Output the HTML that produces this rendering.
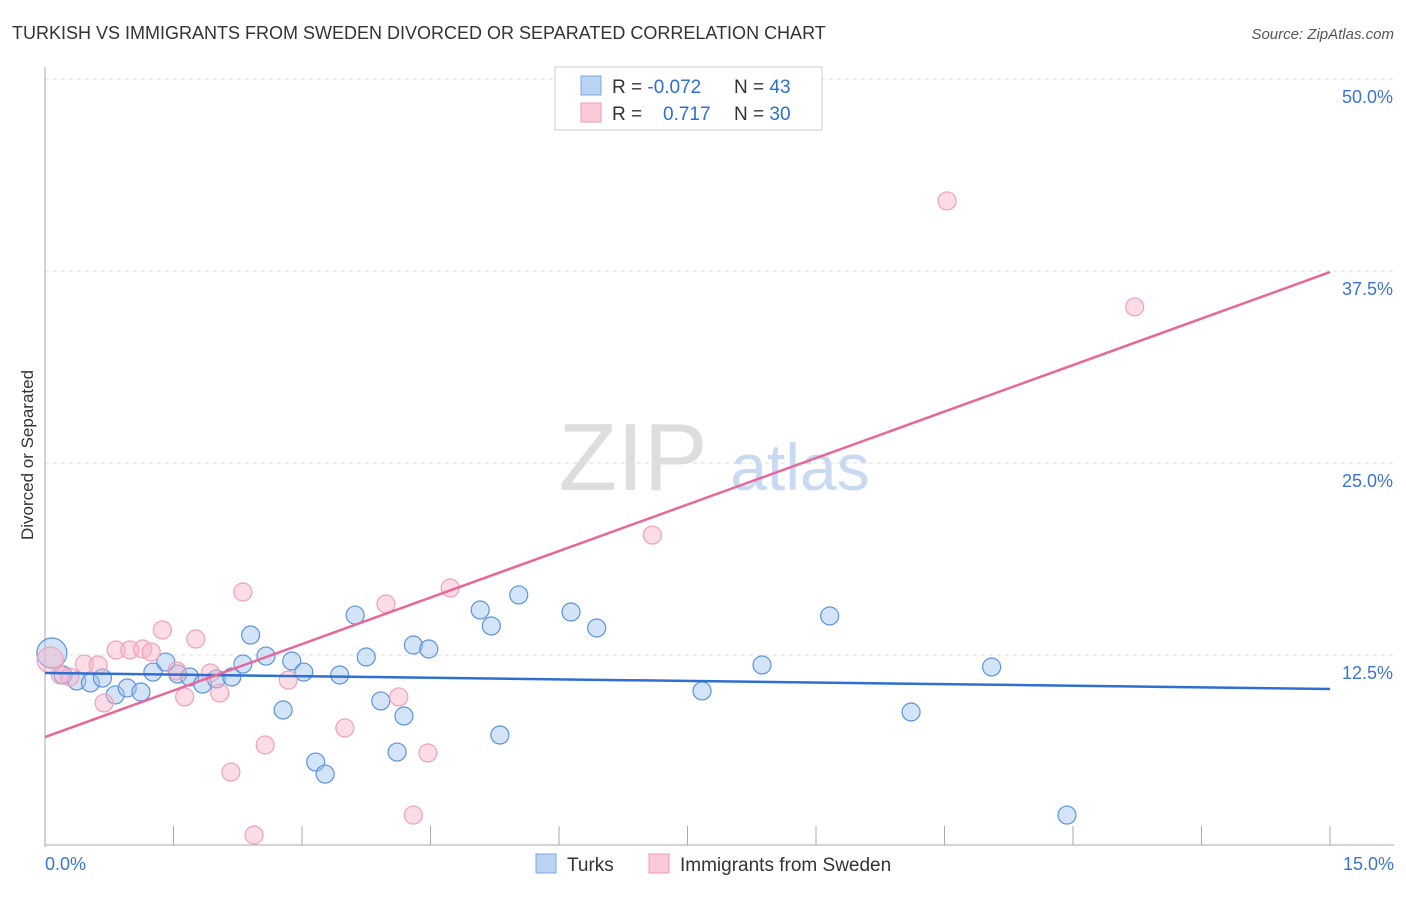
<!DOCTYPE html>
<html><head><meta charset="utf-8"><style>
body{margin:0;background:#fff;font-family:"Liberation Sans",sans-serif;}
svg text{font-family:"Liberation Sans",sans-serif;}
</style></head><body>
<svg id="chart" width="1406" height="892" viewBox="0 0 1406 892">
<text x="12" y="39" font-size="18" fill="#333">TURKISH VS IMMIGRANTS FROM SWEDEN DIVORCED OR SEPARATED CORRELATION CHART</text>
<text x="1394" y="39" font-size="15" fill="#555" font-style="italic" text-anchor="end">Source: ZipAtlas.com</text>
<text x="33" y="455" font-size="17" fill="#333" text-anchor="middle" transform="rotate(-90 33 455)">Divorced or Separated</text>
<g><text x="633" y="490" font-size="96" fill="#ddd" font-family="Liberation Serif" text-anchor="middle">ZIP</text><text x="800" y="490" font-size="66" fill="#c8daf2" text-anchor="middle">atlas</text></g>
<g id="grid"></g>
<g id="axes"></g>
<g id="pts"></g>
<g id="lines"></g>
<g>
<rect x="555" y="67" width="267" height="63" fill="#fff" stroke="#ccc"/>
<rect x="581" y="76" width="20" height="19" fill="#b9d3f4" stroke="#7aa8e0"/>
<rect x="581" y="103" width="20" height="19" fill="#fbc9d7" stroke="#f09ab4"/>
<text x="612" y="93" font-size="19" fill="#333">R = <tspan fill="#2f6fd1">-0.072</tspan></text>
<text x="734" y="93" font-size="19" fill="#333">N = <tspan fill="#2f6fd1">43</tspan></text>
<text x="612" y="120" font-size="19" fill="#333">R = <tspan fill="#2f6fd1" x="663">0.717</tspan></text>
<text x="734" y="120" font-size="19" fill="#333">N = <tspan fill="#2f6fd1">30</tspan></text>
</g>
<g>
<rect x="536" y="854" width="20" height="19" fill="#b9d3f4" stroke="#7aa8e0"/>
<text x="567" y="871" font-size="19" fill="#333">Turks</text>
<rect x="649" y="854" width="20" height="19" fill="#fbc9d7" stroke="#f09ab4"/>
<text x="680" y="871" font-size="19" fill="#333">Immigrants from Sweden</text>
</g>
</svg>
<script>
const yTicks=[12.5,25,37.5,50];
const yTickLabels=["12.5%","25.0%","37.5%","50.0%"];
const xTicks=[0,1.5,3,4.5,6,7.5,9,10.5,12,13.5,15];
const xEndLabels=["0.0%","15.0%"];
const turksX=[0.08,0.21,0.37,0.53,0.67,0.82,0.96,1.12,1.26,1.41,1.55,1.69,1.84,2.00,2.18,2.31,2.40,2.58,2.78,2.88,3.02,3.16,3.27,3.44,3.62,3.75,3.92,4.11,4.19,4.30,4.48,5.08,5.21,5.31,5.53,6.14,6.44,7.67,8.37,9.16,10.11,11.05,11.93];
const turksY=[12.63,11.20,10.81,10.68,11.00,9.90,10.35,10.09,11.39,12.04,11.26,11.07,10.61,10.94,11.07,11.91,13.80,12.43,8.92,12.11,11.39,5.53,4.75,11.20,15.10,12.37,9.51,6.18,8.53,13.15,12.89,15.43,14.39,7.29,16.41,15.30,14.26,10.16,11.85,15.04,8.79,11.72,2.08];
const swedenX=[0.06,0.18,0.29,0.46,0.62,0.69,0.83,0.99,1.14,1.24,1.37,1.54,1.63,1.76,1.93,2.04,2.17,2.31,2.44,2.57,2.84,3.50,3.98,4.13,4.30,4.47,4.73,7.09,10.53,12.72];
const swedenY=[12.17,11.20,11.07,11.91,11.85,9.38,12.83,12.83,12.89,12.70,14.13,11.46,9.77,13.54,11.33,10.03,4.88,16.60,0.78,6.64,10.87,7.75,15.82,9.77,2.08,6.12,16.86,20.31,42.06,35.16];
const turksTrend=[11.33,10.29];
const swedenTrend=[7.16,37.43];
const NS="http://www.w3.org/2000/svg";
const X0=45,X1=1330,Y0=847,PPY=192/12.5;
const xs=v=>X0+v/15*(X1-X0);
const ys=v=>Y0-v*PPY;
function mk(t,a,p){const e=document.createElementNS(NS,t);for(const k in a)e.setAttribute(k,a[k]);p.appendChild(e);return e;}
const grid=document.getElementById('grid'),axes=document.getElementById('axes');
yTicks.forEach((t,i)=>{
 const l=mk('line',{x1:X0,x2:1394,y1:ys(t),y2:ys(t),stroke:'#ddd','stroke-dasharray':'4 4'},grid);
 
 
 const tx=mk('text',{x:1393,y:ys(t)+24,'font-size':18,fill:'#3a74d0','text-anchor':'end'},axes);
 tx.textContent=yTickLabels[i];
 
 
});
mk('line',{x1:X0,x2:X0,y1:67,y2:Y0,stroke:'#aaa'},axes);
mk('line',{x1:X0,x2:1394,y1:845,y2:845,stroke:'#aaa'},axes);
xTicks.forEach(t=>{const l=mk('line',{x1:xs(t),x2:xs(t),y1:826,y2:845,stroke:'#aaa'},axes);
 
 });
const lx0=mk('text',{x:45,y:870,'font-size':18,fill:'#3a74d0'},axes);lx0.textContent=xEndLabels[0];


const lx1=mk('text',{x:1394,y:870,'font-size':18,fill:'#3a74d0','text-anchor':'end'},axes);lx1.textContent=xEndLabels[1];


const pts=document.getElementById('pts');
turksX.forEach((v,i)=>{const c=mk('circle',{cx:xs(v),cy:ys(turksY[i]),r:i==0?15:9,fill:'rgba(160,196,240,0.45)',stroke:'#5b93dc','stroke-width':1.2},pts);
 
 });
swedenX.forEach((v,i)=>{const c=mk('circle',{cx:xs(v),cy:ys(swedenY[i]),r:i==0?13:9,fill:'rgba(248,180,200,0.45)',stroke:'#f0a0b8','stroke-width':1.2},pts);
 
 });
const lines=document.getElementById('lines');
const tl=mk('line',{x1:xs(0),x2:xs(15),y1:ys(turksTrend[0]),y2:ys(turksTrend[1]),stroke:'#2f6fd1','stroke-width':2.5},lines);


const sl=mk('line',{x1:xs(0),x2:xs(15),y1:ys(swedenTrend[0]),y2:ys(swedenTrend[1]),stroke:'#e8679a','stroke-width':2.5},lines);


</script>
</body></html>
